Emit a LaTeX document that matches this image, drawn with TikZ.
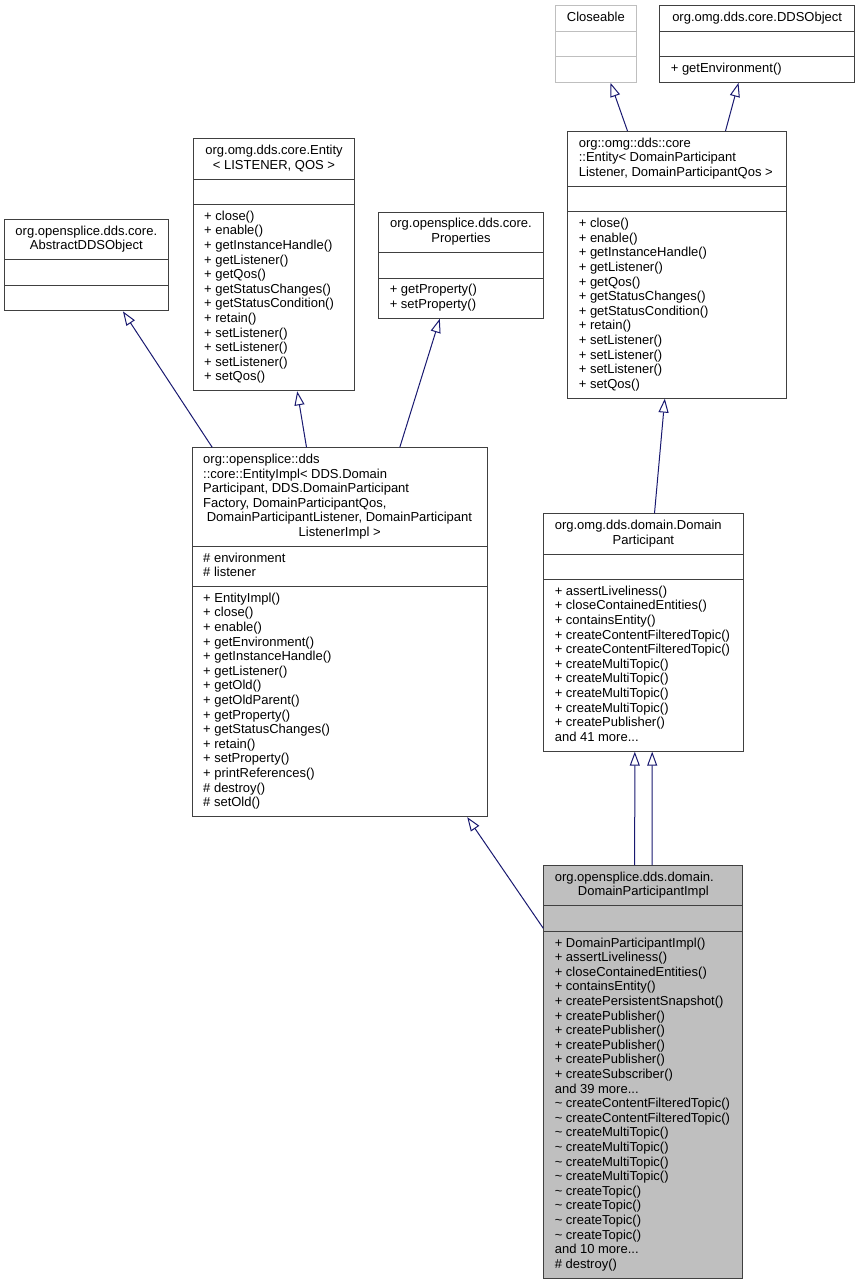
\documentclass[tikz,border=0pt]{standalone}
\usepackage{fontspec}
\setmainfont{Liberation Sans}
\usetikzlibrary{shapes.multipart,arrows.meta,calc}

\definecolor{edgeblue}{HTML}{191970}
\definecolor{boxline}{HTML}{404040}
\definecolor{hlgray}{HTML}{BFBFBF}

\tikzset{
	umlclass/.style={rectangle split, rectangle split parts=3, draw=boxline,
		line width=1pt, anchor=north west, align=left,
		rectangle split part align={center,left,left},
		inner xsep=11pt, inner ysep=5pt, font=\fontsize{13}{14.6}\selectfont},
	lefthead/.style={rectangle split part align={left,left,left}},
	inherit/.style={draw=edgeblue, line width=1pt,
		-{Triangle[open,length=14pt,width=10pt]}},
}

\begin{document}
\fontsize{13}{14.6}\selectfont
\begin{tikzpicture}[x=1pt,y=-1pt]

	\useasboundingbox (0,0) rectangle (859,1285);

	% ---- top row

	\node[umlclass, draw=hlgray, minimum width=80.7] (clos) at (555,5)
	{\strut Closeable \nodepart{two}\strut \nodepart{three}\strut};

	\node[umlclass, minimum width=194.7] (ddso) at (659.3,5)
	{\strut org.omg.dds.core.DDSObject \nodepart{two}\strut
	\nodepart{three}\strut + getEnvironment()\strut};

	% ---- generic entity

	\node[umlclass, lefthead, minimum width=218.7] (edp) at (567.3,131)
	{\begin{tabular}{@{}l@{}}org::omg::dds::core\\ ::Entity< DomainParticipant\\
		Listener, DomainParticipantQos >\end{tabular}
	\nodepart{two}\strut
	\nodepart{three}\strut + close()\\ + enable()\\ + getInstanceHandle()\\
	+ getListener()\\ + getQos()\\ + getStatusChanges()\\ + getStatusCondition()\\
	+ retain()\\ + setListener()\\ + setListener()\\ + setListener()\\ + setQos()\strut};

	% ---- parents of EntityImpl

	\node[umlclass, minimum width=155.3] (ado) at (4,219)
	{\begin{tabular}{@{}c@{}}org.opensplice.dds.core.\\ AbstractDDSObject\end{tabular}
	\nodepart{two}\strut \nodepart{three}\strut};

	\node[umlclass, minimum width=161.6] (elq) at (192.7,138.3)
	{\begin{tabular}{@{}c@{}}org.omg.dds.core.Entity\\ < LISTENER, QOS >\end{tabular}
	\nodepart{two}\strut
	\nodepart{three}\strut + close()\\ + enable()\\ + getInstanceHandle()\\
	+ getListener()\\ + getQos()\\ + getStatusChanges()\\ + getStatusCondition()\\
	+ retain()\\ + setListener()\\ + setListener()\\ + setListener()\\ + setQos()\strut};

	\node[umlclass, minimum width=164.4] (prop) at (378.3,211.7)
	{\begin{tabular}{@{}c@{}}org.opensplice.dds.core.\\ Properties\end{tabular}
	\nodepart{two}\strut
	\nodepart{three}\strut + getProperty()\\ + setProperty()\strut};

	% ---- EntityImpl

	\node[umlclass, lefthead, minimum width=295] (eimpl) at (191.7,447.3)
	{\begin{tabular}{@{}l@{}}org::opensplice::dds\\ ::core::EntityImpl< DDS.Domain\\
		Participant, DDS.DomainParticipant\\ Factory, DomainParticipantQos,\\
		\ DomainParticipantListener, DomainParticipant\\
		\makebox[273pt]{ListenerImpl >}\end{tabular}
	\nodepart{two}\strut \# environment\\ \# listener\strut
	\nodepart{three}\strut + EntityImpl()\\ + close()\\ + enable()\\ + getEnvironment()\\
	+ getInstanceHandle()\\ + getListener()\\ + getOld()\\ + getOldParent()\\
	+ getProperty()\\ + getStatusChanges()\\ + retain()\\ + setProperty()\\
	+ printReferences()\\ \# destroy()\\ \# setOld()\strut};

	% ---- DomainParticipant

	\node[umlclass, lefthead, minimum width=199.2] (dp) at (543.3,513.3)
	{\begin{tabular}{@{}l@{}}org.omg.dds.domain.Domain\\
		\makebox[177.2pt]{Participant}\end{tabular}
	\nodepart{two}\strut
	\nodepart{three}\strut + assertLiveliness()\\ + closeContainedEntities()\\
	+ containsEntity()\\ + createContentFilteredTopic()\\ + createContentFilteredTopic()\\
	+ createMultiTopic()\\ + createMultiTopic()\\ + createMultiTopic()\\
	+ createMultiTopic()\\ + createPublisher()\\ and 41 more...\strut};

	% ---- DomainParticipantImpl

	\node[umlclass, lefthead, fill=hlgray, minimum width=199] (dpi) at (543.3,865)
	{\begin{tabular}{@{}l@{}}org.opensplice.dds.domain.\\
		\makebox[177pt]{DomainParticipantImpl}\end{tabular}
	\nodepart{two}\strut
	\nodepart{three}\strut + DomainParticipantImpl()\\ + assertLiveliness()\\
	+ closeContainedEntities()\\ + containsEntity()\\ + createPersistentSnapshot()\\
	+ createPublisher()\\ + createPublisher()\\ + createPublisher()\\ + createPublisher()\\
	+ createSubscriber()\\ and 39 more...\\
	\textasciitilde{} createContentFilteredTopic()\\ \textasciitilde{} createContentFilteredTopic()\\
	\textasciitilde{} createMultiTopic()\\ \textasciitilde{} createMultiTopic()\\
	\textasciitilde{} createMultiTopic()\\ \textasciitilde{} createMultiTopic()\\
	\textasciitilde{} createTopic()\\ \textasciitilde{} createTopic()\\
	\textasciitilde{} createTopic()\\ \textasciitilde{} createTopic()\\
	and 10 more...\\ \# destroy()\strut};

	% ---- inheritance arrows

	\draw[inherit] ([xshift=-49.65]edp.north) -- ([xshift=14.65]clos.south);
	\draw[inherit] ([xshift=48.35]edp.north) -- ([xshift=-18.65]ddso.south);
	\draw[inherit] ([xshift=11.1]dp.north) -- ([xshift=-12.35]edp.south);

	\draw[inherit] ([xshift=-127.5]eimpl.north) -- ([xshift=36.65]ado.south);
	\draw[inherit] ([xshift=-33.2]eimpl.north) -- ([xshift=23.2]elq.south);
	\draw[inherit] ([xshift=60.1]eimpl.north) -- ([xshift=-21.2]prop.south);

	\draw[inherit] ([yshift=-63.3]dpi.north west) -- ([xshift=127.5]eimpl.south);
	\draw[inherit] ([xshift=-8.6]dpi.north) -- ([xshift=-8.6]dp.south);
	\draw[inherit] ([xshift=8.8]dpi.north) -- ([xshift=8.8]dp.south);

\end{tikzpicture}
\end{document}
